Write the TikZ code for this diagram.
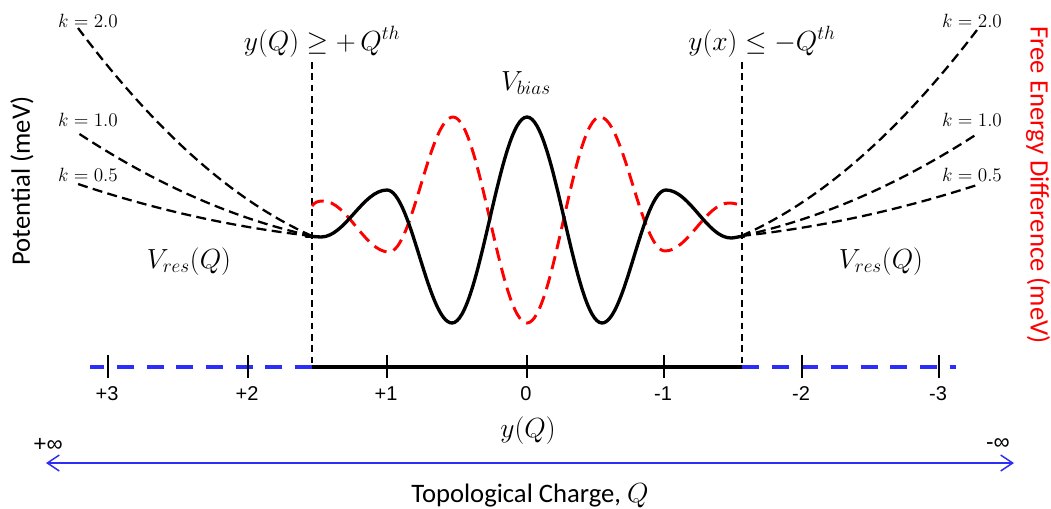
\documentclass[tikz,border=0pt]{standalone}
\usepackage{fontspec}
\setmainfont{Carlito}
\newfontfamily\arialf{Liberation Sans}
\usetikzlibrary{arrows.meta}
\definecolor{axblue}{RGB}{45,45,250}
\definecolor{fered}{RGB}{255,0,0}
\tikzset{
  kcurve/.style={line width=1.7pt, dash pattern=on 7.5pt off 4pt},
  vguide/.style={line width=0.9pt, dash pattern=on 5pt off 3.5pt},
  biascurve/.style={line width=2.5pt},
  fecurve/.style={fered, line width=2.2pt, dash pattern=on 10pt off 5.5pt},
  tickmark/.style={line width=2.2pt},
  ticklab/.style={font=\arialf\fontsize{15}{17}\selectfont},
  mathlab/.style={font=\fontsize{20.5}{24}\selectfont, anchor=base},
  klab/.style={font=\fontsize{15}{17}\selectfont},
  axtitle/.style={font=\fontsize{20}{24}\selectfont},
}
\begin{document}
\begin{tikzpicture}[x=0.75pt,y=-0.75pt]
\useasboundingbox (0,0) rectangle (1051,508);

% vertical guides
\coordinate (gL) at (312,62); \coordinate (gLb) at (312,367);
\coordinate (gR) at (742,62); \coordinate (gRb) at (742,367);
\draw[vguide] (gL) -- (gLb);
\draw[vguide] (gR) -- (gRb);

% axis
\coordinate (aL) at (90,367); \coordinate (aR) at (956,367);
\draw[axblue, line width=3.7pt, dash pattern=on 12.75pt off 9.5pt] (gLb) -- (aL);
\draw[axblue, line width=3.7pt, dash pattern=on 12.75pt off 9.5pt] (gRb) -- (aR);
\draw[line width=3pt] (gLb) -- (gRb);

\foreach \xx/\lab in {108/+3, 248/+2, 387/+1, 527/0, 664/-1, 802/-2, 939/-3}{
  \draw[tickmark] (\xx,355) -- (\xx,378);
  \node[ticklab] (t\xx) at (\xx-1,394) {\lab};
}

% k curves left
\coordinate (jL) at (312,236);
\coordinate (k2L) at (78,28); \coordinate (k1L) at (78,133); \coordinate (k05L) at (78,184);
\draw[kcurve] (jL) .. controls (234,201.3) and (156,132) .. (k2L);
\draw[kcurve] (jL) .. controls (234,218.8) and (156,184.5) .. (k1L);
\draw[kcurve] (jL) .. controls (234,227.3) and (156,210) .. (k05L);
% k curves right
\coordinate (jR) at (741,236);
\coordinate (k2R) at (977,30); \coordinate (k1R) at (977,134); \coordinate (k05R) at (977,185);
\draw[kcurve] (jR) .. controls (819.7,201.7) and (898.3,133) .. (k2R);
\draw[kcurve] (jR) .. controls (819.7,219) and (898.3,185) .. (k1R);
\draw[kcurve] (jR) .. controls (819.7,227.5) and (898.3,210.5) .. (k05R);

% free energy (red dashed)
\draw[fecurve] (312,206) .. controls (315,202) and (318,201) .. (323,201)
  .. controls (347,201) and (365,252) .. (389,252)
  .. controls (412.2,252) and (429.8,117) .. (453,117)
  .. controls (479.9,117) and (500.1,323) .. (527,323)
  .. controls (553.5,323) and (573.5,117) .. (600,117)
  .. controls (623.6,117) and (641.4,251) .. (665,251)
  .. controls (688.2,251) and (705.8,203) .. (729,203)
  .. controls (733,203) and (738,204) .. (741,206);

% bias potential (black solid)
\draw[biascurve] (305,236) -- (321,237)
  .. controls (345,237) and (363,190) .. (387,190)
  .. controls (410.6,190) and (428.4,323) .. (452,323)
  .. controls (479.2,323) and (499.8,117) .. (527,117)
  .. controls (554.2,117) and (574.8,323) .. (602,323)
  .. controls (625.2,323) and (642.8,190) .. (666,190)
  .. controls (689.6,190) and (707.4,238) .. (731,238)
  .. controls (735,238) and (738,236.5) .. (745,236);

% k labels
\node[klab] (lk2L) at (88,21) {$k = 2.0$};
\node[klab] (lk1L) at (88,120) {$k = 1.0$};
\node[klab] (lk05L) at (88,175) {$k = 0.5$};
\node[klab] (lk2R) at (972,21) {$k = 2.0$};
\node[klab] (lk1R) at (972,120) {$k = 1.0$};
\node[klab] (lk05R) at (972,175) {$k = 0.5$};

% math labels
\node[mathlab] (thL) at (322,50) {$y(Q) \geq +\,Q^{th}$};
\node[mathlab] (thR) at (762,50) {$y(x) \leq -Q^{th}$};
\node[mathlab] (vb) at (526,90) {$V_{bias}$};
\node[mathlab] (vrL) at (189,268) {$V_{res}(Q)$};
\node[mathlab] (vrR) at (881,268) {$V_{res}(Q)$};
\node[mathlab, font=\fontsize{19.5}{23}\selectfont] (yq) at (528,437) {$y(Q)$};

% infinity arrow
\node[font=\arialf\fontsize{17}{20}\selectfont] (pinf) at (48,445) {+∞};
\node[font=\arialf\fontsize{17}{20}\selectfont] (minf) at (998,444) {-∞};
\coordinate (arL) at (46,463); \coordinate (arR) at (1014,463);
\draw[axblue, line width=1.1pt, {Straight Barb[length=9pt,width=12pt]}-{Straight Barb[length=9pt,width=12pt]}] (arL) -- (arR);

% axis titles
\node[axtitle] (qt) at (530,496) {Topological Charge, $Q$};
\node[axtitle, rotate=90] (pt) at (22,181) {Potential (meV)};
\node[axtitle, rotate=-90, text=fered] (ft) at (1038,185) {Free Energy Difference (meV)};
\end{tikzpicture}
\end{document}
